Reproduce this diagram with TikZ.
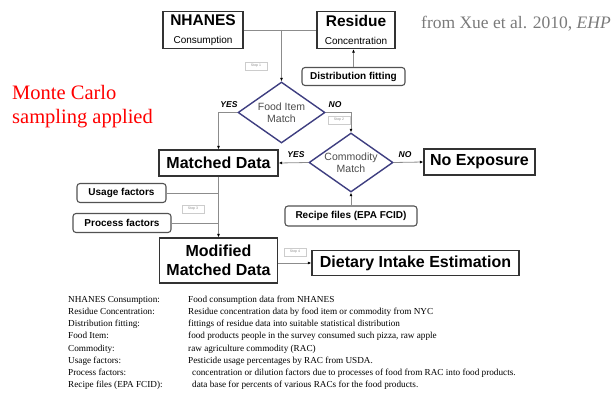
\documentclass[tikz,border=0pt]{standalone}
\usepackage{fontspec}
\setmainfont{Liberation Serif}
\setsansfont{Liberation Sans}
\usetikzlibrary{arrows.meta,shapes.geometric}
\definecolor{linegray}{HTML}{8C8C8C}
\definecolor{boxgray}{HTML}{333333}
\definecolor{navy}{HTML}{3E3E80}
\definecolor{citegray}{HTML}{7A7A7A}
\tikzset{
  bigbox/.style={draw=boxgray, line width=1.3pt, inner sep=0pt, align=center,
    font=\sffamily\bfseries\fontsize{16}{19}\selectfont},
  factorbox/.style={draw=boxgray!85, line width=1.1pt, rounded corners=3pt, inner sep=0pt,
    font=\sffamily\bfseries\fontsize{10}{12}\selectfont},
  decision/.style={diamond, draw=navy, line width=1.4pt, aspect=1.43, inner sep=0pt,
    align=center, text=black!70, font=\sffamily\fontsize{10.5}{12.5}\selectfont},
  steptag/.style={draw=black!20, line width=0.4pt, text=black!45, inner sep=0pt,
    minimum width=22pt, minimum height=8pt, font=\sffamily\fontsize{3.5}{4}\selectfont},
  answer/.style={inner sep=0pt, font=\sffamily\bfseries\itshape\fontsize{8.5}{10}\selectfont},
  legend/.style={inner sep=0pt, anchor=base west, font=\fontsize{9.2}{11}\selectfont},
  link/.style={draw=linegray, line width=0.8pt},
  flow/.style={link, -{Latex[length=3.5pt,width=3pt,color=black]}}
}

\begin{document}
\begin{tikzpicture}[x=1pt,y=-1pt]
  \useasboundingbox (0,0) rectangle (616,396);

  % inputs
  \node[bigbox, minimum width=80pt, minimum height=37pt] (nhanes) at (203,30)
    {{\fontsize{15.5}{17}\selectfont NHANES}\\[-1pt]{\mdseries\fontsize{10}{12}\selectfont Consumption}};
  \node[bigbox, minimum width=78pt, minimum height=37pt] (residue) at (356,30)
    {{\fontsize{15.5}{17}\selectfont Residue}\\[-1pt]{\mdseries\fontsize{10}{12}\selectfont Concentration}};
  \node[factorbox, minimum width=103pt, minimum height=18pt] (distfit) at (353.5,76.5) {Distribution fitting};

  % matching steps
  \node[decision, minimum width=87pt, minimum height=61pt] (fooditem) at (281.5,112.5) {Food Item\\Match};
  \node[decision, minimum width=84pt, minimum height=59pt] (commodity) at (351,162.5) {Commodity\\Match};
  \node[bigbox, minimum width=119pt, minimum height=26pt] (matched) at (218.5,163) {Matched Data};
  \node[bigbox, minimum width=111pt, minimum height=26pt] (noexp) at (479.5,162) {No Exposure};
  \node[factorbox, minimum width=132pt, minimum height=20pt] (recipe) at (351,216) {Recipe files (EPA FCID)};

  % factors and output
  \node[factorbox, minimum width=89pt, minimum height=19pt] (usage) at (121.5,193) {Usage factors};
  \node[factorbox, minimum width=98pt, minimum height=19pt] (process) at (122,223) {Process factors};
  \node[bigbox, minimum width=118pt, minimum height=45pt] (modified) at (218.5,260.5) {Modified\\Matched Data};
  \node[bigbox, minimum width=207pt, minimum height=25pt] (dietary) at (415.5,263) {Dietary Intake Estimation};

  % step tags
  \node[steptag] (step1) at (256,66) {Step 1};
  \node[steptag] (step2) at (339,120) {Step 2};
  \node[steptag] (step3) at (193,209) {Step 3};
  \node[steptag] (step4) at (295,252) {Step 4};

  % yes / no
  \node[answer] (yesfood) at (229,105) {YES};
  \node[answer] (nofood) at (335,105) {NO};
  \node[answer] (yescomm) at (296,155) {YES};
  \node[answer] (nocomm) at (405,155) {NO};

  % connectors
  \draw[link] (nhanes.east) -- (residue.west);
  \draw[flow] (nhanes.east -| fooditem.north) -- (fooditem.north);
  \draw[flow] (distfit.north) -- (distfit.north |- residue.south);
  \draw[flow] (fooditem.west) -| (matched.north);
  \draw[flow] (fooditem.east) -| (commodity.north);
  \draw[flow] (commodity.west) -- (matched.east);
  \draw[flow] (commodity.east) -- (noexp.west);
  \draw[flow] (recipe.north) -- (commodity.south);
  \draw[flow] (matched.south) -- (modified.north);
  \draw[link] (usage.east) -- (usage.east -| matched.south);
  \draw[link] (process.east) -- (process.east -| matched.south);
  \draw[flow] (dietary.west -| modified.east) -- (dietary.west);

  % notes
  \node[anchor=north west, inner sep=0pt, align=left, text=red,
    font=\fontsize{20.5}{24.5}\selectfont] (montecarlo) at (12,85) {Monte Carlo\\sampling applied};
  \node[anchor=base west, inner sep=0pt, text=citegray,
    font=\fontsize{17.5}{20}\selectfont] (cite) at (421,29) {from Xue et al. 2010, \textit{EHP}};

  % glossary
  \foreach \term/\desc [count=\i] in {
    {NHANES Consumption:}/{Food consumption data from NHANES},
    {Residue Concentration:}/{Residue concentration data by food item or commodity from NYC},
    {Distribution fitting:}/{fittings of residue data into suitable statistical distribution},
    {Food Item:}/{food products people in the survey consumed such pizza, raw apple},
    {Commodity:}/{raw agriculture commodity (RAC)},
    {Usage factors:}/{Pesticide usage percentages by RAC from USDA.},
    {Process factors:}/{\hspace*{4pt}concentration or dilution factors due to processes of food from RAC into food products.},
    {Recipe files (EPA FCID):}/{\hspace*{4pt}data base for percents of various RACs for the food products.}}{
    \node[legend] (term\i) at (68,{290+12.2*\i}) {\term};
    \node[legend] (desc\i) at (188,{290+12.2*\i}) {\desc};
  }
\end{tikzpicture}
\end{document}
